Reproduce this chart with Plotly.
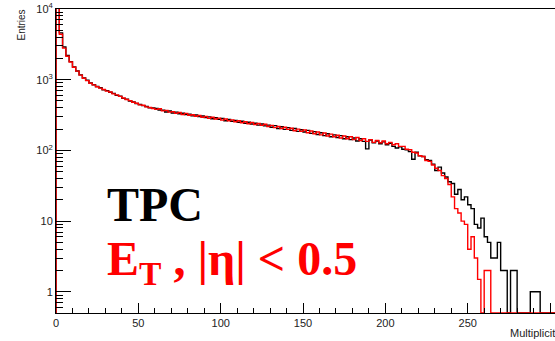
import plotly.graph_objects as go

# ---------------- data ----------------
bin_width = 2
bin_starts = list(range(0, 304, bin_width))

black_tpc = [
    # 0 .. 58
    20000, 4600, 2900, 2200, 1800, 1520, 1330, 1170, 1060, 980,
    900, 850, 800, 770, 720, 700, 665, 640, 600, 585,
    545, 530, 500, 485, 460, 445, 430, 418, 400, 398,
    # 60 .. 228
    392, 372, 370, 350, 360, 338, 348, 330, 336, 322,
    326, 308, 316, 300, 306, 292, 298, 280, 290, 276,
    282, 262, 274, 258, 266, 250, 258, 242, 250, 236,
    242, 228, 236, 222, 228, 212, 224, 204, 216, 198,
    210, 192, 204, 186, 196, 182, 192, 174, 184, 168,
    178, 162, 172, 156, 166, 152, 162, 146, 156, 142,
    150, 136, 146, 134, 105, 140, 128, 136, 124, 132,
    120, 126, 114, 108, 112, 104, 102, 96, 75, 94,
    84, 82, 74, 72, 64,
    # 230 .. 302
    52, 58, 48, 42, 36, 34, 24, 28, 20, 22,
    17, 15, 9, 8, 11, 6, 5, 3, 3, 5,
    2, 2, 0, 2, 2, 0, 0, 0, 0, 1,
    1, 1, 0, 0, 0, 0, 0,
]

red_et = [
    # 0 .. 58
    20000, 4400, 2800, 2150, 1780, 1500, 1320, 1160, 1050, 970,
    890, 845, 795, 760, 725, 690, 670, 630, 610, 580,
    550, 525, 505, 480, 465, 440, 435, 412, 405, 392,
    # 60 .. 228
    380, 388, 362, 368, 348, 352, 334, 344, 322, 334,
    314, 320, 304, 312, 294, 302, 284, 294, 278, 286,
    268, 278, 262, 270, 254, 262, 246, 254, 238, 248,
    232, 240, 226, 234, 218, 226, 210, 218, 204, 212,
    198, 206, 190, 200, 186, 194, 178, 188, 172, 182,
    166, 176, 160, 170, 156, 164, 150, 160, 146, 156,
    142, 152, 138, 146, 134, 142, 130, 138, 128, 136,
    124, 130, 120, 124, 114, 114, 104, 102, 94, 92,
    84, 82, 72, 70, 62,
    # 230 .. 302
    56, 52, 44, 40, 33, 22, 15, 13, 10, 9,
    4, 6, 3, 1.5, 0, 2, 2, 0, 0, 0,
    0, 0, 0, 0, 0, 0, 0, 0, 0, 0,
    0, 0, 0, 0, 0, 0, 0,
]

x_ticks = [0, 50, 100, 150, 200, 250, 300]
y_tick_vals = [1, 10, 100, 1000, 10000]
y_tick_text = ["1", "10", "10<sup>2</sup>", "10<sup>3</sup>", "10<sup>4</sup>"]

# ---------------- layout constants ----------------
W, H = 555, 341
L, R, T, B = 56, 0, 9, 28
log_lo, log_hi = -0.3, 4.0
x_hi = 303
y_floor = 10 ** log_lo


def step_xy(values):
    xs = [bin_starts[0]] + bin_starts + [bin_starts[-1] + bin_width]
    ys = [y_floor] + [v if v > 0 else y_floor for v in values]
    ys = ys + [ys[-1]]
    return xs, ys


fig = go.Figure()
for vals, col in [(black_tpc, "black"), (red_et, "#ff0000")]:
    xs, ys = step_xy(vals)
    fig.add_trace(go.Scatter(x=xs, y=ys, mode="lines", line_shape="hv",
                             line=dict(color=col, width=1.4),
                             showlegend=False, hoverinfo="skip"))

tick_font = dict(family="Liberation Sans, Arial, sans-serif", size=11, color="#222")

fig.update_layout(
    width=W, height=H,
    margin=dict(l=L, r=R, t=T, b=B, pad=0),
    paper_bgcolor="white", plot_bgcolor="white",
    showlegend=False,
    xaxis=dict(range=[0, x_hi], showgrid=False, zeroline=False,
               showline=True, linecolor="black", linewidth=1, mirror=True,
               ticks="inside", ticklen=10, tickwidth=1, tickcolor="black",
               tickvals=x_ticks, tickfont=tick_font,
               minor=dict(ticks="inside", ticklen=5, tickwidth=1,
                          tickcolor="black", dtick=10, showgrid=False)),
    yaxis=dict(type="log", range=[log_lo, log_hi], showgrid=False, zeroline=False,
               showline=True, linecolor="black", linewidth=1, mirror=True,
               ticks="inside", ticklen=15, tickwidth=1, tickcolor="black",
               tickvals=y_tick_vals, ticktext=y_tick_text, tickfont=tick_font,
               minor=dict(ticks="inside", ticklen=7, tickwidth=1,
                          tickcolor="black", dtick="D1", showgrid=False)),
)

pw = W - L - R
ph = H - T - B


def px(xp):
    return (xp - L) / pw


def py(yp):
    return (H - B - yp) / ph


fig.add_annotation(text="Entries", xref="paper", yref="paper",
                   x=px(21), y=py(8), xanchor="center", yanchor="top",
                   textangle=-90, showarrow=False,
                   font=dict(family="Liberation Sans, Arial, sans-serif", size=10, color="#222"))
fig.add_annotation(text="Multiplicity", xref="paper", yref="paper",
                   x=px(508), y=py(333), xanchor="left", yanchor="middle",
                   showarrow=False,
                   font=dict(family="Liberation Sans, Arial, sans-serif", size=11, color="#222"))
fig.add_annotation(text="<b>TPC</b>", xref="paper", yref="paper",
                   x=px(105), y=py(204), xanchor="left", yanchor="middle",
                   showarrow=False,
                   font=dict(family="Liberation Serif, Times New Roman, serif", size=48, color="black"))
fig.add_annotation(text="<b>E<sub>T</sub> , |η| &lt; 0.5</b>", xref="paper", yref="paper",
                   x=px(105), y=py(262), xanchor="left", yanchor="middle",
                   showarrow=False,
                   font=dict(family="Liberation Serif, Times New Roman, serif", size=48, color="#ff0000"))

fig.write_html("out.html")
